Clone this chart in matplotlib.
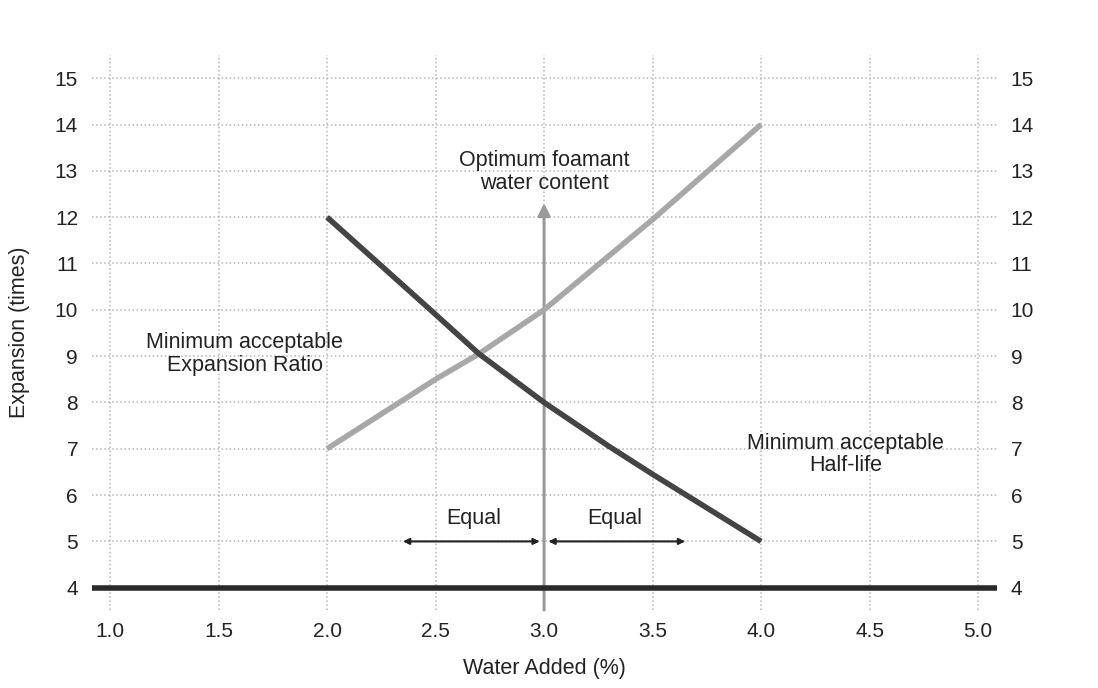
import matplotlib
matplotlib.use('Agg')
import matplotlib.pyplot as plt
import numpy as np

plt.rcParams['font.family'] = ['Liberation Sans', 'DejaVu Sans']

# data
x_ticks = [1.0, 1.5, 2.0, 2.5, 3.0, 3.5, 4.0, 4.5, 5.0]
y_ticks = list(range(4, 16))

half_life_x = [2.0, 2.5, 2.7, 3.0, 3.3, 3.5, 4.0]
half_life_y = [12.0, 9.9, 9.05, 8.0, 7.05, 6.45, 5.0]

expansion_x = [2.0, 2.5, 2.7, 3.0, 3.5, 4.0]
expansion_y = [7.0, 8.5, 9.05, 10.0, 11.95, 14.0]

baseline_y = 4
optimum_x = 3.0
equal_left = (2.35, 3.0)
equal_right = (3.0, 3.65)
equal_y = 5

TXT = '#222222'


def main():
    fig = plt.figure(figsize=(10.98, 6.88), dpi=100)
    ax = fig.add_axes([0.0838, 0.1134, 0.8242, 0.8066])

    ax.set_xlim(0.917, 5.087)
    ax.set_ylim(3.52, 15.5)

    ax.set_xticks(x_ticks)
    ax.set_xticklabels(['%.1f' % v for v in x_ticks])
    ax.set_yticks(y_ticks)
    ax.grid(True, color='#b5b5b5', linestyle=':', linewidth=1.1)
    ax.set_axisbelow(True)
    for s in ax.spines.values():
        s.set_visible(False)
    ax.tick_params(length=0, labelsize=15, colors=TXT, pad=10)
    ax.tick_params(axis='x', pad=9)

    ax2 = ax.twinx()
    ax2.set_ylim(ax.get_ylim())
    ax2.set_yticks(y_ticks)
    for s in ax2.spines.values():
        s.set_visible(False)
    ax2.tick_params(length=0, labelsize=15, colors=TXT, pad=10)

    # baseline
    ax.axhline(baseline_y, color='#2a2a2a', lw=4, zorder=3)

    # optimum arrow
    ax.annotate('', xy=(optimum_x, 12.3), xytext=(optimum_x, 3.52),
                arrowprops=dict(arrowstyle='-|>', color='#9a9a9a', lw=2.2,
                                mutation_scale=18, shrinkA=0, shrinkB=0),
                zorder=2)

    # curves
    ax.plot(expansion_x, expansion_y, color='#a8a8a8', lw=4, zorder=4,
            solid_capstyle='butt', solid_joinstyle='round')
    ax.plot(half_life_x, half_life_y, color='#444444', lw=4, zorder=5,
            solid_capstyle='butt', solid_joinstyle='round')

    # equal arrows
    for a, b in [equal_left, equal_right]:
        ax.annotate('', xy=(b - 0.02 if b == 3.0 else b, equal_y),
                    xytext=(a + 0.02 if a == 3.0 else a, equal_y),
                    arrowprops=dict(arrowstyle='<|-|>', color=TXT, lw=1.5,
                                    mutation_scale=9, shrinkA=0, shrinkB=0),
                    zorder=6)
        ax.text((a + b) / 2, equal_y + 0.5, 'Equal', ha='center', va='center',
                fontsize=15.5, color=TXT)

    ax.text(3.0, 12.97, 'Optimum foamant\nwater content', ha='center', va='center',
            fontsize=15.5, color=TXT, linespacing=1.1)
    ax.text(1.62, 9.04, 'Minimum acceptable\nExpansion Ratio', ha='center', va='center',
            fontsize=15.5, color=TXT, linespacing=1.1)
    ax.text(4.39, 6.88, 'Minimum acceptable\nHalf-life', ha='center', va='center',
            fontsize=15.5, color=TXT, linespacing=1.1)

    ax.set_xlabel('Water Added (%)', fontsize=15.5, color=TXT, labelpad=12)
    ax.set_ylabel('Expansion (times)', fontsize=15.5, color=TXT, labelpad=18)

    fig.savefig('out.png', dpi=100, facecolor='white')


if __name__ == '__main__':
    main()
